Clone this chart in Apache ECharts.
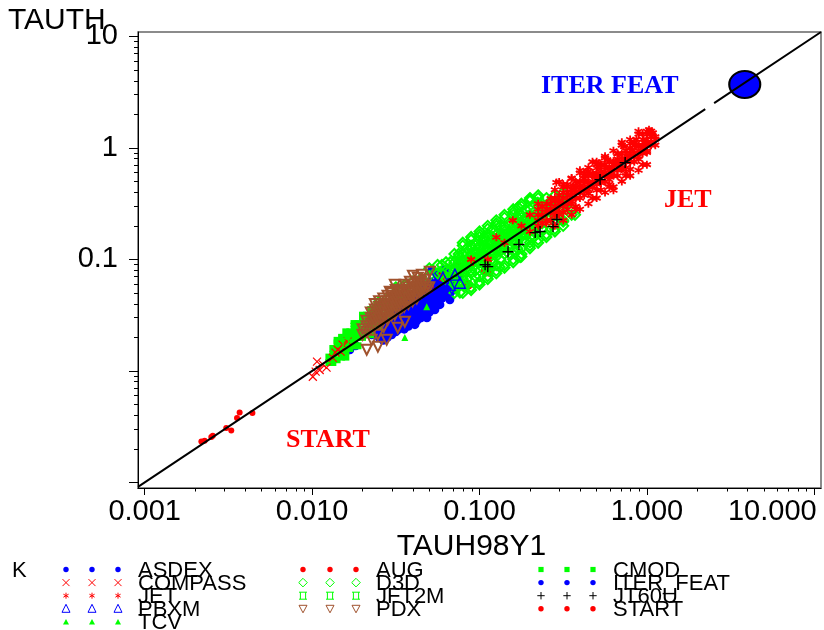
<!DOCTYPE html>
<html><head><meta charset="utf-8">
<script src="https://cdn.jsdelivr.net/npm/echarts@6/dist/echarts.min.js"></script>
<style>html,body{margin:0;padding:0;background:#fff}#c{width:824px;height:630px}</style>
</head><body><div id="c"></div>
<script>
// ---- axis ranges and ticks ----
const X_MIN = 0.000912, X_MAX = 10.96;
const Y_MIN = 0.000891, Y_MAX = 10.96;
const xTickVals = [0.001, 0.01, 0.1, 1, 10];
const yTickVals = [0.001, 0.01, 0.1, 1, 10];
const yLabelVals = [0.1, 1, 10];
const xTitle = 'TAUH98Y1';
const yTitle = 'TAUTH';

// ---- data: [TAUH98Y1, TAUTH] ----
const ASDEX = [[0.0168,0.0155],[0.0182,0.0168],[0.0227,0.0211],[0.0254,0.0234],[0.0283,0.0254],[0.0312,0.0276],[0.0334,0.0300],[0.0358,0.0326],[0.0384,0.0354],[0.0411,0.0385],[0.0440,0.0409],[0.0472,0.0435],[0.0505,0.0473],[0.0541,0.0514],[0.0580,0.0558],[0.0621,0.0606],[0.0665,0.0658],[0.0713,0.0715],[0.0505,0.0631],[0.0440,0.0535],[0.0564,0.0730],[0.0472,0.0340],[0.0428,0.0300],[0.0373,0.0260],[0.0325,0.0234],[0.0299,0.0288],[0.0344,0.0385],[0.0394,0.0454],[0.0453,0.0514],[0.0621,0.0483],[0.0665,0.0435],[0.0713,0.0535],[0.0580,0.0393],[0.0272,0.0300],[0.0254,0.0276],[0.0519,0.0809],[0.0485,0.0300],[0.0400,0.0276],[0.0621,0.0809],[0.0764,0.0715],[0.0541,0.0354],[0.0411,0.0260],
[0.0251,0.0224],[0.0251,0.0200],[0.0266,0.0237],[0.0266,0.0211],[0.0266,0.0188],[0.0282,0.0251],[0.0282,0.0224],[0.0282,0.0200],[0.0299,0.0266],[0.0299,0.0237],[0.0299,0.0211],[0.0299,0.0316],[0.0316,0.0282],[0.0316,0.0251],[0.0316,0.0224],[0.0316,0.0335],[0.0335,0.0316],[0.0335,0.0282],[0.0335,0.0251],[0.0335,0.0376],[0.0355,0.0335],[0.0355,0.0299],[0.0355,0.0266],[0.0355,0.0237],[0.0355,0.0398],[0.0376,0.0355],[0.0376,0.0316],[0.0376,0.0282],[0.0376,0.0251],[0.0376,0.0422],[0.0398,0.0376],[0.0398,0.0335],[0.0398,0.0299],[0.0398,0.0266],[0.0398,0.0447],[0.0422,0.0398],[0.0422,0.0355],[0.0422,0.0316],[0.0422,0.0282],[0.0422,0.0473],[0.0447,0.0422],[0.0447,0.0376],[0.0447,0.0335],[0.0447,0.0299],[0.0447,0.0501],[0.0473,0.0447],[0.0473,0.0398],[0.0473,0.0355],[0.0473,0.0316],[0.0473,0.0531],[0.0501,0.0473],[0.0501,0.0422],[0.0501,0.0376],[0.0501,0.0335],[0.0501,0.0562],[0.0531,0.0501],[0.0531,0.0447],[0.0531,0.0398],[0.0531,0.0596],[0.0562,0.0531],[0.0562,0.0473],[0.0562,0.0422],[0.0562,0.0631],[0.0596,0.0562],[0.0596,0.0501],[0.0596,0.0447],[0.0596,0.0668],[0.0631,0.0596],[0.0631,0.0531],[0.0631,0.0473],[0.0631,0.0708],[0.0668,0.0631],[0.0668,0.0562],[0.0668,0.0501],[0.0708,0.0668],[0.0708,0.0562],[0.0750,0.0668]];
const AUG = [[0.0852,0.0593],[0.114,0.0777],[0.109,0.0793],[0.060,0.070],[0.075,0.085],[0.100,0.105],[0.125,0.140],[0.150,0.160],[0.050,0.055],[0.090,0.095]];
const CMOD = [[0.0133,0.0133],[0.0133,0.0159],[0.0141,0.0126],[0.0141,0.0159],[0.0141,0.0188],[0.0150,0.0150],[0.0150,0.0188],[0.0159,0.0133],[0.0159,0.0168],[0.0159,0.0224],[0.0168,0.0188],[0.0168,0.0211],[0.0168,0.0159],[0.0178,0.0178],[0.0178,0.0237],[0.0178,0.0266],[0.0188,0.0168],[0.0188,0.0211],[0.0188,0.0266],[0.0200,0.0237],[0.0200,0.0200],[0.0200,0.0316],[0.0211,0.0224],[0.0211,0.0282],[0.0224,0.0211],[0.0224,0.0282],[0.0224,0.0335],[0.0237,0.0266],[0.0237,0.0335],[0.0251,0.0251],[0.0251,0.0316],[0.0251,0.0398],[0.0266,0.0316],[0.0266,0.0398],[0.0282,0.0316],[0.0282,0.0376],[0.0316,0.0398],[0.0316,0.0473],[0.0355,0.0473],
[0.0126,0.0133],[0.0126,0.0119],[0.0133,0.0141],[0.0133,0.0119],[0.0141,0.0150],[0.0141,0.0178],[0.0150,0.0168],[0.0150,0.0133],[0.0150,0.0200],[0.0159,0.0178],[0.0159,0.0200],[0.0159,0.0150],[0.0168,0.0178],[0.0168,0.0224],[0.0178,0.0188],[0.0178,0.0211],[0.0178,0.0168],[0.0188,0.0200],[0.0188,0.0237],[0.0200,0.0224],[0.0200,0.0282],[0.0211,0.0251],[0.0211,0.0316],[0.0224,0.0251],[0.0224,0.0355],[0.0237,0.0299],[0.0237,0.0376],[0.0251,0.0355]];
const COMPASS = [[0.0101,0.00886],[0.0107,0.0121],[0.0116,0.0114],[0.0133,0.0131],[0.0142,0.0155],[0.0152,0.0172],[0.0163,0.0183],[0.0105,0.00984],[0.0122,0.0107],[0.0111,0.0102],[0.0138,0.0146],[0.0148,0.0149]];
const D3D = [[0.0251,0.0355],[0.0251,0.0417],[0.0282,0.0372],[0.0282,0.0447],[0.0316,0.0398],[0.0316,0.0479],[0.0316,0.0562],[0.0355,0.0501],[0.0355,0.0589],[0.0398,0.0525],[0.0398,0.0631],[0.0447,0.0562],[0.0447,0.0668],[0.0501,0.0708],[0.0501,0.0832],[0.0562,0.0750],[0.0562,0.0891],[0.0596,0.0750],[0.0596,0.0891],
[0.0631,0.0668],[0.0631,0.0794],[0.0631,0.0944],[0.0668,0.0668],[0.0668,0.0794],[0.0668,0.0944],
[0.0708,0.0596],[0.0708,0.0708],[0.0708,0.0794],[0.0708,0.0944],[0.0708,0.112],[0.0708,0.0501],
[0.0750,0.0794],[0.0750,0.0944],[0.0750,0.112],[0.0750,0.0596],
[0.0794,0.0708],[0.0794,0.0841],[0.0794,0.0944],[0.0794,0.112],[0.0794,0.133],[0.0794,0.0596],
[0.0841,0.0841],[0.0841,0.0944],[0.0841,0.112],[0.0841,0.0596],
[0.0891,0.0750],[0.0891,0.0891],[0.0891,0.112],[0.0891,0.133],[0.0891,0.100],
[0.0944,0.0891],[0.0944,0.112],[0.0944,0.133],[0.0944,0.0708],
[0.100,0.0794],[0.100,0.0944],[0.100,0.112],[0.100,0.133],[0.100,0.159],
[0.106,0.106],[0.106,0.133],[0.106,0.0891],[0.106,0.150],
[0.112,0.0841],[0.112,0.100],[0.112,0.119],[0.112,0.141],[0.112,0.168],
[0.119,0.119],[0.119,0.141],[0.119,0.0944],[0.119,0.188],
[0.126,0.106],[0.126,0.126],[0.126,0.141],[0.126,0.168],[0.126,0.0891],
[0.133,0.126],[0.133,0.168],[0.133,0.200],
[0.141,0.112],[0.141,0.126],[0.141,0.150],[0.141,0.168],[0.141,0.200],
[0.150,0.150],[0.150,0.200],[0.150,0.126],
[0.159,0.119],[0.159,0.150],[0.159,0.178],[0.159,0.200],[0.159,0.251],
[0.168,0.168],[0.168,0.200],[0.168,0.141],[0.168,0.237],
[0.178,0.159],[0.178,0.188],[0.178,0.237],[0.178,0.126],
[0.188,0.188],[0.188,0.237],[0.188,0.282],
[0.200,0.159],[0.200,0.188],[0.200,0.224],[0.200,0.282],
[0.211,0.211],[0.211,0.266],[0.211,0.178],
[0.224,0.200],[0.224,0.251],[0.224,0.299],[0.224,0.355],
[0.237,0.237],[0.237,0.299],
[0.251,0.211],[0.251,0.266],[0.251,0.355],
[0.266,0.266],[0.266,0.316],
[0.282,0.251],[0.282,0.316],[0.282,0.376],
[0.316,0.316],[0.316,0.398],
[0.200,0.344],[0.223,0.323],[0.170,0.295],[0.182,0.263],[0.163,0.220],[0.303,0.235],[0.316,0.218],[0.372,0.251],[0.0733,0.0569],[0.0764,0.0505],[0.132,0.0855],[0.175,0.105],[0.200,0.142],
[0.0708,0.0841],[0.0708,0.0631],[0.0750,0.0891],[0.0750,0.0708],[0.0750,0.106],[0.0794,0.100],[0.0794,0.0668],[0.0841,0.100],[0.0841,0.0794],[0.0841,0.126],[0.0841,0.0668],[0.0891,0.106],[0.0891,0.0794],[0.0891,0.126],[0.0944,0.100],[0.0944,0.119],[0.0944,0.0794],[0.100,0.106],[0.100,0.126],[0.100,0.0708],[0.106,0.112],[0.106,0.100],[0.106,0.126],[0.106,0.159],[0.112,0.126],[0.112,0.0891],[0.112,0.159],[0.119,0.112],[0.119,0.133],[0.119,0.159],[0.119,0.100],[0.126,0.119],[0.126,0.150],[0.126,0.200],[0.133,0.141],[0.133,0.119],[0.133,0.159],[0.133,0.100],[0.141,0.159],[0.141,0.188],[0.150,0.159],[0.150,0.178],[0.150,0.133],[0.150,0.112],[0.159,0.168],[0.159,0.141],[0.159,0.188],[0.168,0.178],[0.168,0.159],[0.168,0.211],[0.168,0.126],[0.178,0.168],[0.178,0.211],[0.178,0.200],[0.178,0.251],[0.188,0.200],[0.188,0.168],[0.188,0.224],[0.188,0.141],[0.200,0.211],[0.200,0.178],[0.200,0.251],[0.211,0.224],[0.211,0.200],[0.211,0.237],[0.211,0.159],[0.224,0.237],[0.224,0.211],[0.237,0.251],[0.237,0.211],[0.237,0.282],[0.237,0.188],[0.251,0.282],[0.251,0.237],[0.266,0.282],[0.266,0.237],[0.266,0.335],[0.282,0.266],[0.282,0.299],[0.299,0.316],[0.299,0.282],[0.299,0.355],[0.316,0.335],[0.316,0.282],[0.335,0.355],[0.335,0.316],
[0.0794,0.0501],[0.0891,0.0562],[0.0891,0.0531],[0.100,0.0631],[0.100,0.0596],[0.112,0.0708],[0.112,0.0668],[0.126,0.0794],[0.126,0.0750],[0.141,0.0891],[0.141,0.0841],[0.159,0.100],[0.159,0.0944],[0.178,0.112],[0.178,0.106],[0.200,0.126],[0.200,0.133],[0.224,0.141],[0.224,0.150],[0.251,0.159],[0.251,0.168],[0.282,0.178],[0.282,0.188],[0.316,0.200],[0.316,0.224],[0.355,0.251],[0.355,0.282],
[0.0794,0.141],[0.0891,0.159],[0.0891,0.150],[0.100,0.178],[0.100,0.168],[0.112,0.200],[0.112,0.188],[0.126,0.224],[0.126,0.211],[0.141,0.251],[0.141,0.237],[0.159,0.282],[0.159,0.266],[0.178,0.316],[0.178,0.299],[0.200,0.355],[0.200,0.335],[0.224,0.376]];
const ITER_FEAT = [[3.84,3.71]];
const JET = [[0.0891,0.100],[0.112,0.100],[0.126,0.158],[0.141,0.141],[0.158,0.224],[0.178,0.200],[0.200,0.251],[0.200,0.178],[0.224,0.316],[0.224,0.224],
[0.251,0.282],[0.251,0.224],[0.251,0.316],[0.266,0.266],[0.266,0.351],[0.282,0.339],[0.282,0.246],[0.288,0.490],[0.299,0.496],[0.299,0.320],[0.299,0.272],
[0.316,0.398],[0.316,0.316],[0.316,0.263],[0.335,0.376],[0.335,0.473],[0.345,0.345],[0.355,0.331],[0.355,0.427],[0.355,0.537],[0.365,0.460],
[0.376,0.394],[0.376,0.496],[0.376,0.299],[0.398,0.457],[0.398,0.355],[0.398,0.631],[0.410,0.439],[0.422,0.422],[0.422,0.531],[0.434,0.415],[0.439,0.612],
[0.447,0.617],[0.447,0.490],[0.447,0.389],[0.473,0.569],[0.473,0.452],[0.473,0.750],[0.487,0.559],[0.501,0.525],[0.501,0.661],[0.501,0.417],[0.516,0.729],
[0.531,0.610],[0.531,0.484],[0.546,0.585],[0.562,0.708],[0.562,0.562],[0.562,0.813],[0.579,0.781],[0.596,0.653],[0.596,0.519],[0.613,0.613],
[0.631,0.759],[0.631,0.631],[0.631,0.417],[0.649,0.746],[0.668,0.881],[0.668,0.700],[0.688,0.657],[0.708,0.813],[0.708,0.646],[0.708,1.122],[0.729,1.029],
[0.750,0.944],[0.750,0.750],[0.772,0.827],[0.794,0.891],[0.794,1.096],[0.794,0.646],[0.818,0.961],[0.841,0.841],[0.841,1.059],[0.866,1.195],
[0.891,1.023],[0.891,0.794],[0.891,1.413],[0.917,0.917],[0.944,1.189],[0.944,0.989],[0.972,1.116],[1.000,1.122],[1.000,0.912],[1.000,1.318],
[1.029,1.454],[1.059,1.059],[1.059,1.274],[1.084,1.365],[1.122,1.202],
[0.224,0.200],[0.224,0.282],[0.224,0.251],[0.237,0.251],[0.237,0.299],[0.237,0.211],[0.251,0.266],[0.251,0.211],[0.266,0.282],[0.266,0.316],[0.266,0.224],[0.282,0.299],[0.282,0.355],[0.282,0.266],[0.299,0.335],[0.299,0.376],[0.316,0.355],[0.316,0.299],[0.316,0.447],[0.335,0.316],[0.335,0.398],[0.335,0.282],[0.355,0.376],[0.355,0.316],[0.355,0.398],[0.376,0.355],[0.376,0.422],[0.376,0.447],[0.398,0.422],[0.398,0.398],[0.398,0.501],[0.422,0.447],[0.422,0.376],[0.422,0.501],[0.422,0.596],[0.447,0.473],[0.447,0.562],[0.447,0.422],[0.473,0.501],[0.473,0.447],[0.473,0.596],[0.501,0.562],[0.501,0.473],[0.501,0.596],[0.501,0.708],[0.531,0.562],[0.531,0.668],[0.531,0.501],[0.531,0.422],[0.562,0.596],[0.562,0.501],[0.562,0.668],[0.596,0.631],[0.596,0.750],[0.596,0.562],[0.596,0.473],[0.631,0.668],[0.631,0.708],[0.631,0.562],[0.668,0.631],[0.668,0.750],[0.668,0.794],[0.668,0.562],[0.708,0.750],[0.708,0.668],[0.708,0.891],[0.750,0.794],[0.750,0.668],[0.750,0.891],[0.750,0.596],[0.794,0.841],[0.794,0.750],[0.794,1.000],[0.841,0.891],[0.841,0.750],[0.841,1.122],[0.891,0.944],[0.891,0.841],[0.891,1.059],[0.944,0.891],[0.944,1.059],[0.944,1.334],[1.000,1.059],[1.000,0.944],[1.000,1.189],[1.059,1.122],[1.059,1.334],[1.122,1.259],[1.122,1.059],
[0.282,0.200],[0.282,0.422],[0.316,0.224],[0.316,0.473],[0.355,0.251],[0.355,0.531],[0.398,0.282],[0.398,0.596],[0.447,0.316],[0.447,0.668],[0.501,0.355],[0.501,0.750],[0.562,0.398],[0.562,0.841],[0.631,0.447],[0.631,0.944],[0.708,0.501],[0.708,1.059],[0.794,0.562],[0.794,1.189],[0.891,0.631],[0.891,1.334],[1.000,0.708],[1.000,1.413],
[0.299,0.251],[0.335,0.447],[0.376,0.282],[0.422,0.562],[0.473,0.355],[0.531,0.708],[0.596,0.447],[0.668,0.891],[0.750,0.562],[0.841,1.122],[0.944,0.708],[1.059,1.413]];
const JFT2M = [[0.0168,0.0211],[0.0212,0.0276],[0.0198,0.0225],[0.0180,0.0243],[0.0207,0.0288],[0.0191,0.0224],[0.0159,0.0178],[0.0229,0.0331],[0.0251,0.0331]];
const JT60U = [[0.108,0.0897],[0.112,0.0861],[0.148,0.117],[0.172,0.136],[0.215,0.174],[0.230,0.178],[0.275,0.197],[0.290,0.228],[0.525,0.520],[0.741,0.739]];
const PBXM = [[0.0472,0.0435],[0.0519,0.0514],[0.0526,0.0593],[0.0604,0.0686],[0.0519,0.0686],[0.0665,0.0593],[0.0713,0.0730],[0.0764,0.0618],[0.0564,0.0473],[0.0638,0.0535]];
const PDX = [[0.0254,0.0288],[0.0272,0.0319],[0.0291,0.0354],[0.0312,0.0393],[0.0334,0.0435],[0.0358,0.0473],[0.0384,0.0514],[0.0411,0.0558],[0.0440,0.0606],[0.0472,0.0658],[0.0400,0.0715],[0.0358,0.0593],[0.0325,0.0514],[0.0299,0.0454],[0.0276,0.0393],[0.0254,0.0354],[0.0237,0.0300],[0.0283,0.0288],[0.0312,0.0319],[0.0344,0.0369],[0.0373,0.0418],[0.0411,0.0454],[0.0440,0.0503],[0.0485,0.0558],[0.0428,0.0686],[0.0384,0.0631],[0.0334,0.0535],[0.0303,0.0435],[0.0268,0.0249],[0.0247,0.0211],[0.0227,0.0190],[0.0212,0.0155],[0.0247,0.0165],[0.0279,0.0190],[0.0325,0.0244],[0.0358,0.0276],[0.0312,0.0593],[0.0291,0.0514],[0.0453,0.0730],[0.0505,0.0777],
[0.0200,0.0211],[0.0200,0.0237],[0.0211,0.0224],[0.0211,0.0251],[0.0211,0.0282],[0.0224,0.0237],[0.0224,0.0266],[0.0224,0.0299],[0.0224,0.0335],[0.0237,0.0251],[0.0237,0.0282],[0.0237,0.0316],[0.0237,0.0355],[0.0237,0.0398],[0.0251,0.0266],[0.0251,0.0299],[0.0251,0.0335],[0.0251,0.0376],[0.0251,0.0422],[0.0266,0.0282],[0.0266,0.0316],[0.0266,0.0355],[0.0266,0.0398],[0.0266,0.0447],[0.0282,0.0299],[0.0282,0.0335],[0.0282,0.0376],[0.0282,0.0422],[0.0282,0.0473],[0.0299,0.0316],[0.0299,0.0355],[0.0299,0.0398],[0.0299,0.0447],[0.0299,0.0501],[0.0316,0.0335],[0.0316,0.0376],[0.0316,0.0422],[0.0316,0.0473],[0.0316,0.0531],[0.0335,0.0355],[0.0335,0.0398],[0.0335,0.0447],[0.0335,0.0501],[0.0355,0.0376],[0.0355,0.0422],[0.0355,0.0473],[0.0355,0.0531],[0.0376,0.0398],[0.0376,0.0447],[0.0376,0.0501],[0.0376,0.0562],[0.0398,0.0422],[0.0398,0.0473],[0.0398,0.0531],[0.0398,0.0596],[0.0422,0.0447],[0.0422,0.0501],[0.0422,0.0562],[0.0422,0.0631],[0.0447,0.0501],[0.0447,0.0562],[0.0447,0.0631],[0.0473,0.0531],[0.0473,0.0596],[0.0501,0.0562]];
const START = [[0.00218,0.00233],[0.00228,0.00236],[0.00250,0.00255],[0.00255,0.00262],[0.00307,0.00307],[0.00329,0.00292],[0.00356,0.00378],[0.00369,0.00424],[0.00440,0.00419]];
const TCV = [[0.0358,0.0199],[0.0484,0.0376]];
// y = x reference line (with the small gap seen near 2.4)
const diagVals = [0.000912, 2.23, 2.52, 10.96];

// legend columns (column-major)
const legendCols = [['ASDEX','COMPASS','JET','PBXM','TCV'],['AUG','D3D','JFT2M','PDX'],['CMOD','ITER_FEAT','JT60U','START']];
const legendKey = 'K';
const annotations = [
  {text:'ITER FEAT', color:'#0000ff', x:541, y:86},
  {text:'JET', color:'#ff0000', x:664, y:200},
  {text:'START', color:'#ff0000', x:286, y:440}
];

const BLUE='#0000ff', RED='#ff0000', GREEN='#00ff00', BROWN='#a0522d', BLACK='#000000';
const P_X='path://M0,0L10,10M10,0L0,10';
const P_STAR='path://M5,0L5,10M0.67,2.5L9.33,7.5M9.33,2.5L0.67,7.5';
const P_PLUS='path://M5,0L5,10M0,5L10,5';
const P_BOX='path://M0,1L10,1M0,9L10,9M2,1L2,9M8,1L8,9';
const STYLE = {
  ASDEX:{sym:'circle',size:9,fill:BLUE,lg:'dot'},
  AUG:{sym:'circle',size:10,fill:RED,lg:'dot'},
  CMOD:{sym:'rect',size:7,fill:GREEN,lg:'square'},
  COMPASS:{sym:P_X,size:8,stroke:RED,lg:'x'},
  D3D:{sym:'diamond',size:10,stroke:GREEN,lw:2,lg:'diamond'},
  ITER_FEAT:{sym:'circle',size:[31,27],fill:BLUE,border:BLACK,lg:'dot'},
  JET:{sym:P_STAR,size:8,stroke:RED,lw:1.8,lg:'star'},
  JFT2M:{sym:P_BOX,size:9,stroke:GREEN,lg:'box'},
  JT60U:{sym:P_PLUS,size:11,stroke:BLACK,lw:1.4,lg:'plus'},
  PBXM:{sym:'triangle',size:11,stroke:BLUE,lw:1.3,lg:'tri'},
  PDX:{sym:'triangle',rotate:180,size:10,stroke:BROWN,lw:2,lg:'dtri'},
  START:{sym:'circle',size:6,fill:RED,lg:'dot'},
  TCV:{sym:'triangle',size:7,fill:GREEN,lg:'trifill'}
};
const DATA = {ASDEX,AUG,CMOD,COMPASS,D3D,ITER_FEAT,JET,JFT2M,JT60U,PBXM,PDX,START,TCV};
const COLORS = {ASDEX:BLUE,AUG:RED,CMOD:GREEN,COMPASS:RED,D3D:GREEN,ITER_FEAT:BLUE,JET:RED,JFT2M:GREEN,JT60U:BLACK,PBXM:BLUE,PDX:BROWN,START:RED,TCV:GREEN};

function scatter(name){
  const st = STYLE[name];
  const itemStyle = st.fill
    ? {color:st.fill, borderColor:st.border||st.fill, borderWidth:st.border?2:0, opacity:1}
    : {color:'rgba(0,0,0,0)', borderColor:st.stroke, borderWidth:st.lw||1.2, opacity:1};
  return {type:'scatter', name, data:DATA[name], symbol:st.sym, symbolSize:st.size,
    symbolRotate:st.rotate||0, itemStyle, silent:true, emphasis:{disabled:true}, animation:false};
}

const minorVals = [];
[0.001,0.01,0.1,1].forEach(d=>{for(let m=2;m<=9;m++) minorVals.push(+(m*d).toPrecision(3));});

const FONT = 'Liberation Sans';
function baseAxis(min,max,pos){
  return {type:'log', logBase:10, min, max, position:pos, splitLine:{show:false},
    minorTick:{show:false}, minorSplitLine:{show:false}};
}
const xMain = Object.assign(baseAxis(X_MIN,X_MAX,'bottom'),{
  axisLine:{show:true,onZero:false,lineStyle:{color:BLACK,width:1}},
  axisTick:{show:true,customValues:xTickVals,length:7,inside:false,lineStyle:{color:BLACK,width:1}},
  axisLabel:{show:true,customValues:xTickVals,margin:9,fontSize:29,color:BLACK,fontFamily:FONT,
    formatter:v=>{const s=(+v).toFixed(3); return (+v)>=10?'{r|'+s+'}':s;},
    rich:{r:{fontSize:29,fontFamily:FONT,color:BLACK,padding:[0,84,0,0]}}},
  name:xTitle, nameLocation:'middle', nameGap:44,
  nameTextStyle:{fontSize:30,color:BLACK,fontFamily:FONT,padding:[0,16,0,0]}
});
const xMinor = Object.assign(baseAxis(X_MIN,X_MAX,'bottom'),{
  axisLine:{show:false,onZero:false},
  axisTick:{show:true,customValues:minorVals,length:3.5,inside:false,lineStyle:{color:BLACK,width:1}},
  axisLabel:{show:false}
});
const yMain = Object.assign(baseAxis(Y_MIN,Y_MAX,'left'),{
  axisLine:{show:true,onZero:false,lineStyle:{color:BLACK,width:1}},
  axisTick:{show:true,customValues:yTickVals,length:9,inside:false,lineStyle:{color:BLACK,width:1}},
  axisLabel:{show:true,customValues:yLabelVals,margin:20,fontSize:29,color:BLACK,fontFamily:FONT,
    formatter:v=>String(+(+v).toPrecision(3))}
});
const yMinor = Object.assign(baseAxis(Y_MIN,Y_MAX,'left'),{
  axisLine:{show:false,onZero:false},
  axisTick:{show:true,customValues:minorVals,length:4,inside:false,lineStyle:{color:BLACK,width:1}},
  axisLabel:{show:false}
});

const diag = [[diagVals[0],diagVals[0]],[diagVals[1],diagVals[1]],[(diagVals[1]+diagVals[2])/2,'-'],[diagVals[2],diagVals[2]],[diagVals[3],diagVals[3]]];

const order = ['ASDEX','AUG','CMOD','COMPASS','D3D','JET','JFT2M','JT60U','PBXM','PDX','START','TCV'];
const series = order.map(scatter);
series.push({type:'line', name:'diag', data:diag, symbol:'none', showSymbol:false, connectNulls:false,
  lineStyle:{color:BLACK,width:2}, silent:true, animation:false, emphasis:{disabled:true}});
series.push(scatter('ITER_FEAT'));

// ---- legend drawn as graphics ----
const LG = {colSym:[[66,92,118],[303,330,356],[541,567,593]], colText:[138,376,613], y0:569.5, dy:13.1};
function glyph(kind,c,cx,cy){
  const L=(x1,y1,x2,y2)=>({type:'line',silent:true,shape:{x1,y1,x2,y2},style:{stroke:c,lineWidth:1}});
  switch(kind){
    case 'dot': return [{type:'circle',silent:true,shape:{cx,cy,r:2.7},style:{fill:c}}];
    case 'square': return [{type:'rect',silent:true,shape:{x:cx-2.6,y:cy-2.6,width:5.2,height:5.2},style:{fill:c}}];
    case 'x': return [L(cx-3.5,cy-3.5,cx+3.5,cy+3.5),L(cx+3.5,cy-3.5,cx-3.5,cy+3.5)];
    case 'plus': return [L(cx-3.7,cy,cx+3.7,cy),L(cx,cy-3.7,cx,cy+3.7)];
    case 'star': return [L(cx,cy-3,cx,cy+3),L(cx-2.6,cy-1.5,cx+2.6,cy+1.5),L(cx+2.6,cy-1.5,cx-2.6,cy+1.5)];
    case 'tri': return [{type:'polygon',silent:true,shape:{points:[[cx,cy-4.5],[cx+4,cy+3.5],[cx-4,cy+3.5]]},style:{fill:'none',stroke:c,lineWidth:1}}];
    case 'trifill': return [{type:'polygon',silent:true,shape:{points:[[cx,cy-3],[cx+3,cy+2.5],[cx-3,cy+2.5]]},style:{fill:c}}];
    case 'dtri': return [{type:'polygon',silent:true,shape:{points:[[cx-4,cy-3.5],[cx+4,cy-3.5],[cx,cy+4]]},style:{fill:'none',stroke:c,lineWidth:1}}];
    case 'diamond': return [{type:'polygon',silent:true,shape:{points:[[cx,cy-4.3],[cx+4.3,cy],[cx,cy+4.3],[cx-4.3,cy]]},style:{fill:'none',stroke:c,lineWidth:1}}];
    case 'box': return [L(cx-4,cy-3.5,cx+4,cy-3.5),L(cx-4,cy+3.5,cx+4,cy+3.5),L(cx-2.6,cy-3.5,cx-2.6,cy+3.5),L(cx+2.6,cy-3.5,cx+2.6,cy+3.5)];
  }
  return [];
}
const graphics = [];
graphics.push({type:'text',silent:true,x:8,y:21,style:{text:yTitle,font:'30px "'+FONT+'"',fill:BLACK,align:'left',verticalAlign:'middle'}});
graphics.push({type:'text',silent:true,x:12,y:LG.y0+1,style:{text:legendKey,font:'22px "'+FONT+'"',fill:BLACK,align:'left',verticalAlign:'middle'}});
legendCols.forEach((names,ci)=>{
  names.forEach((nm,ri)=>{
    const cy = LG.y0 + ri*LG.dy;
    LG.colSym[ci].forEach(cx=>glyph(STYLE[nm].lg,COLORS[nm],cx,cy).forEach(g=>graphics.push(g)));
    graphics.push({type:'text',silent:true,x:LG.colText[ci],y:cy+1,style:{text:nm,font:'22px "'+FONT+'"',fill:BLACK,align:'left',verticalAlign:'middle'}});
  });
});
annotations.forEach(a=>graphics.push({type:'text',silent:true,x:a.x,y:a.y,style:{text:a.text,font:'bold 26px "Liberation Serif"',fill:a.color,align:'left',verticalAlign:'middle'}}));

const chart = echarts.init(document.getElementById('c'), null, {renderer:'canvas'});
chart.setOption({
  animation:false,
  backgroundColor:'#ffffff',
  textStyle:{fontFamily:FONT},
  grid:{left:138,right:3,top:32,bottom:142,show:true,borderColor:'#666666',borderWidth:1.5,backgroundColor:'transparent',containLabel:false,outerBoundsMode:'none'},
  xAxis:[xMain,xMinor],
  yAxis:[yMain,yMinor],
  series,
  graphic:graphics
});
</script></body></html>
